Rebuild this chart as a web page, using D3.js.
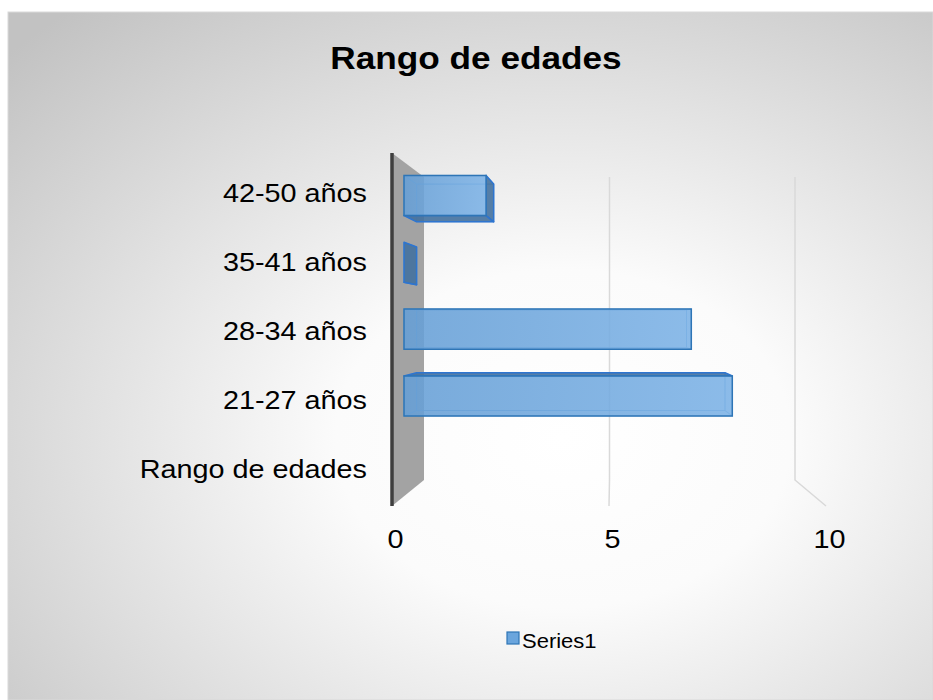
<!DOCTYPE html>
<html>
<head>
<meta charset="utf-8">
<script src="https://cdn.jsdelivr.net/npm/d3@7"></script>
<style>
  body { margin: 0; background: #fff; }
  text { font-family: "Liberation Sans", Arial, sans-serif; fill: #000; }
</style>
</head>
<body>
<div id="chart"></div>
<script>
// data
var title = "Rango de edades";
var categories = ["Rango de edades", "21-27 años", "28-34 años", "35-41 años", "42-50 años"];
var values = [null, 8, 7, 0, 2];
var xTicks = [0, 5, 10];
var seriesName = "Series1";

var W = 933, H = 700;
var sx = 1.13; // picture text is a little wider than Arial

var svg = d3.select("#chart").append("svg")
    .attr("width", W)
    .attr("height", H);

var defs = svg.append("defs");
var bg = defs.append("radialGradient")
    .attr("id", "bg")
    .attr("cx", 0.6).attr("cy", 0.62).attr("r", 0.82);
bg.append("stop").attr("offset", "0%").attr("stop-color", "#ffffff");
bg.append("stop").attr("offset", "30%").attr("stop-color", "#fbfbfb");
bg.append("stop").attr("offset", "100%").attr("stop-color", "#c2c2c2");

var face = defs.append("linearGradient")
    .attr("id", "face")
    .attr("x1", 0).attr("y1", 0).attr("x2", 1).attr("y2", 0);
face.append("stop").attr("offset", "0%").attr("stop-color", "#669fd6");
face.append("stop").attr("offset", "100%").attr("stop-color", "#7cb2e6");

// chart area
svg.append("rect")
    .attr("x", 8).attr("y", 12)
    .attr("width", W - 8).attr("height", H - 12)
    .attr("fill", "url(#bg)")
    .attr("stroke", "#d9d9d9");

// two planes of the 3D box: back wall and front edge
var xBack = d3.scaleLinear().domain([0, 10]).range([424, 795]);
var xFront = d3.scaleLinear().domain([0, 10]).range([392, 826]);
var yBack = d3.scaleLinear().domain([0, 1]).range([480, 177]);
var yFront = d3.scaleLinear().domain([0, 1]).range([506, 153]);
var yLabel = d3.scaleLinear().domain([0, 1]).range([503.6, 158]);

var band = d3.scaleBand()
    .domain(categories)
    .range([0, 1])
    .paddingInner(0.4)
    .paddingOuter(0.2);

var tB = 0.23, tF = 0.625; // depth of the bars

function P(v, u, t) {
  var x = xBack(v) + (xFront(v) - xBack(v)) * t;
  var y = yBack(u) + (yFront(u) - yBack(u)) * t;
  return [x, y];
}
function poly(pts) {
  return pts.map(function(p) { return p[0].toFixed(1) + "," + p[1].toFixed(1); }).join(" ");
}

// side wall at 0
var g = svg.append("g");
g.append("polygon")
    .attr("points", poly([P(0, 1, 1), P(0, 1, 0), P(0, 0, 0), P(0, 0, 1)]))
    .attr("fill", "#a3a3a3");

// gridlines on back wall and floor
xTicks.filter(function(d) { return d > 0; }).forEach(function(d) {
  g.append("polyline")
      .attr("points", poly([P(d, 1, 0), P(d, 0, 0), P(d, 0, 1)]))
      .attr("fill", "none")
      .attr("stroke", "#d9d9d9")
      .attr("stroke-width", 1.5);
});

g.append("line")
    .attr("x1", xFront(0)).attr("x2", xFront(0))
    .attr("y1", yFront(1)).attr("y2", yFront(0))
    .attr("stroke", "#3f3f3f")
    .attr("stroke-width", 3.5);

// bars as boxes
categories.forEach(function(c, i) {
  var v = values[i];
  if (v === null) return;
  var u0 = band(c), u1 = band(c) + band.bandwidth();
  var faces = {
    back:   [P(0, u0, tB), P(v, u0, tB), P(v, u1, tB), P(0, u1, tB)],
    front:  [P(0, u0, tF), P(v, u0, tF), P(v, u1, tF), P(0, u1, tF)],
    top:    [P(0, u1, tB), P(v, u1, tB), P(v, u1, tF), P(0, u1, tF)],
    bottom: [P(0, u0, tB), P(v, u0, tB), P(v, u0, tF), P(0, u0, tF)],
    left:   [P(0, u0, tB), P(0, u1, tB), P(0, u1, tF), P(0, u0, tF)],
    right:  [P(v, u0, tB), P(v, u1, tB), P(v, u1, tF), P(v, u0, tF)]
  };
  var vis = {
    top: yBack(u1) < yFront(u1),
    bottom: yBack(u0) > yFront(u0),
    right: xBack(v) > xFront(v),
    left: xBack(0) < xFront(0)
  };
  var bg2 = svg.append("g");
  // hidden edges seen through the box
  ["back", "top", "bottom", "left", "right"].forEach(function(k) {
    if (vis[k]) return;
    bg2.append("polygon")
        .attr("points", poly(faces[k]))
        .attr("fill", "none")
        .attr("stroke", "#5b9bd5")
        .attr("stroke-opacity", 0.55)
        .attr("stroke-width", 1);
  });
  ["top", "bottom", "left", "right"].forEach(function(k) {
    if (!vis[k]) return;
    bg2.append("polygon")
        .attr("points", poly(faces[k]))
        .attr("fill", "#44719f")
        .attr("fill-opacity", 0.9)
        .attr("stroke", "#2e75d0")
        .attr("stroke-width", 1.5)
        .attr("stroke-linejoin", "round");
  });
  if (v > 0) {
    bg2.append("polygon")
        .attr("points", poly(faces.front))
        .attr("fill", "url(#face)")
        .attr("fill-opacity", 0.88)
        .attr("stroke", "#2e75b6")
        .attr("stroke-width", 1.5);
  }
});

// category labels
svg.append("g").selectAll("text")
  .data(categories)
  .enter().append("text")
    .attr("transform", function(d) {
      return "translate(367," + (yLabel(band(d) + band.bandwidth() / 2) + 9) + ") scale(" + sx + ",1)";
    })
    .attr("text-anchor", "end")
    .style("font-size", "25.5px")
    .text(function(d) { return d; });

// value axis labels
var ax = svg.append("g")
    .attr("transform", "translate(3,521)")
    .call(d3.axisBottom(xFront).tickValues(xTicks).tickSize(0).tickPadding(9));
ax.select(".domain").remove();
ax.selectAll("text")
    .attr("transform", "scale(" + sx + ",1)")
    .style("font-size", "25.5px")
    .style("font-family", "Liberation Sans, Arial, sans-serif")
    .attr("fill", "#000");

// title
svg.append("text")
    .attr("transform", "translate(476,69) scale(1.1,1)")
    .attr("text-anchor", "middle")
    .style("font-size", "32px")
    .style("font-weight", "bold")
    .text(title);

// legend
var lg = svg.append("g").attr("transform", "translate(507,632)");
lg.append("rect")
    .attr("width", 12).attr("height", 12)
    .attr("fill", "#6aa5dd")
    .attr("stroke", "#2e75b6")
    .attr("stroke-width", 1.2);
lg.append("text")
    .attr("transform", "translate(15,16) scale(1.1,1)")
    .style("font-size", "20px")
    .text(seriesName);
</script>
</body>
</html>
